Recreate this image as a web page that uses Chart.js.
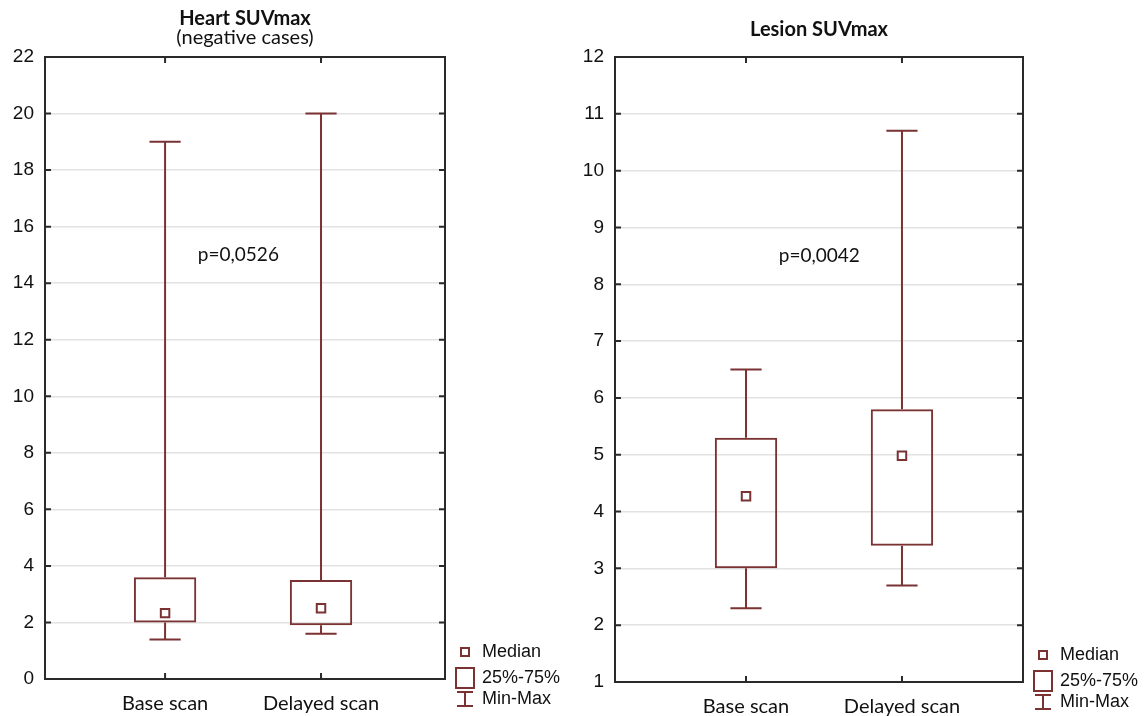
<!DOCTYPE html>
<html>
<head>
<meta charset="utf-8">
<script src="https://cdn.jsdelivr.net/npm/chart.js@4.4.1/dist/chart.umd.min.js"></script>
<style>
  html, body { margin: 0; padding: 0; background: #fff; }
  #wrap { position: relative; width: 1148px; height: 716px; }
  .panel { position: absolute; top: 0; height: 716px; }
  #left { left: 0; width: 560px; }
  #right { left: 560px; width: 588px; }
</style>
</head>
<body>
<div id="wrap">
  <div class="panel" id="left"><canvas id="heartChart"></canvas></div>
  <div class="panel" id="right"><canvas id="lesionChart"></canvas></div>
</div>
<script>
const categories = ["Base scan", "Delayed scan"];

// Heart SUVmax (negative cases)
const heartMin = [1.4, 1.6];
const heartQ1 = [2.0, 1.9];
const heartMedian = [2.33, 2.5];
const heartQ3 = [3.6, 3.5];
const heartMax = [19, 20];
const heartTicks = [0, 2, 4, 6, 8, 10, 12, 14, 16, 18, 20, 22];

// Lesion SUVmax
const lesionMin = [2.3, 2.7];
const lesionQ1 = [3.0, 3.4];
const lesionMedian = [4.27, 4.98];
const lesionQ3 = [5.3, 5.8];
const lesionMax = [6.5, 10.7];
const lesionTicks = [1, 2, 3, 4, 5, 6, 7, 8, 9, 10, 11, 12];

const BOX_COLOR = "#7a3232";
const FRAME_COLOR = "#2a2a2a";
const TEXT_COLOR = "#111";

function makeBoxChart(canvasId, cfg) {
  // whiskers: min -> q1 and q3 -> max, with caps
  const whiskers = {
    id: "whiskers",
    afterDatasetsDraw(chart) {
      const { ctx, scales: { x, y } } = chart;
      ctx.save();
      ctx.strokeStyle = BOX_COLOR;
      ctx.lineWidth = 2;
      cfg.min.forEach((lo, i) => {
        const cx = x.getPixelForValue(i);
        const half = x.getPixelForValue(i + 0.1) - cx;
        const yMin = y.getPixelForValue(lo);
        const yMax = y.getPixelForValue(cfg.max[i]);
        ctx.beginPath();
        ctx.moveTo(cx, yMin);
        ctx.lineTo(cx, y.getPixelForValue(cfg.q1[i]));
        ctx.moveTo(cx, y.getPixelForValue(cfg.q3[i]));
        ctx.lineTo(cx, yMax);
        ctx.moveTo(cx - half, yMin);
        ctx.lineTo(cx + half, yMin);
        ctx.moveTo(cx - half, yMax);
        ctx.lineTo(cx + half, yMax);
        ctx.stroke();
      });
      ctx.restore();
    }
  };

  // frame, inner ticks, titles, p value and the legend
  const decor = {
    id: "decor",
    afterDraw(chart) {
      const { ctx, chartArea: a, scales: { x, y } } = chart;
      ctx.save();
      ctx.strokeStyle = FRAME_COLOR;
      ctx.lineWidth = 2;
      ctx.strokeRect(a.left, a.top, a.right - a.left, a.bottom - a.top);

      ctx.beginPath();
      y.ticks.forEach(t => {
        const py = y.getPixelForValue(t.value);
        ctx.moveTo(a.left, py); ctx.lineTo(a.left + 6, py);
        ctx.moveTo(a.right - 6, py); ctx.lineTo(a.right, py);
      });
      x.ticks.forEach(t => {
        const px = x.getPixelForValue(t.value);
        ctx.moveTo(px, a.top); ctx.lineTo(px, a.top + 6);
        ctx.moveTo(px, a.bottom - 6); ctx.lineTo(px, a.bottom);
      });
      ctx.stroke();

      ctx.fillStyle = TEXT_COLOR;
      ctx.textAlign = "center";
      ctx.textBaseline = "middle";
      const midX = (a.left + a.right) / 2;
      ctx.font = "bold 20px Lato";
      ctx.fillText(cfg.title, midX, cfg.titleY);
      if (cfg.subtitle) {
        ctx.font = "20px Lato";
        ctx.fillText(cfg.subtitle, midX, cfg.titleY + 19);
      }

      ctx.font = "19px Lato";
      ctx.fillText(cfg.pText, x.getPixelForValue(cfg.pPos[0]), y.getPixelForValue(cfg.pPos[1]));

      // legend
      const lx = a.right + 20;
      const r1 = a.bottom - 27, r2 = a.bottom - 1, r3 = a.bottom + 20;
      ctx.strokeStyle = BOX_COLOR;
      ctx.lineWidth = 2;
      ctx.strokeRect(lx - 4, r1 - 4, 8, 8);
      ctx.strokeRect(lx - 9, r2 - 10, 18, 20);
      ctx.beginPath();
      ctx.moveTo(lx - 8, r3 - 7); ctx.lineTo(lx + 8, r3 - 7);
      ctx.moveTo(lx, r3 - 7); ctx.lineTo(lx, r3 + 7);
      ctx.moveTo(lx - 8, r3 + 7); ctx.lineTo(lx + 8, r3 + 7);
      ctx.stroke();
      ctx.font = "18px 'Liberation Sans'";
      ctx.textAlign = "left";
      ctx.fillText("Median", lx + 17, r1);
      ctx.fillText("25%-75%", lx + 17, r2);
      ctx.fillText("Min-Max", lx + 17, r3);
      ctx.restore();
    }
  };

  return new Chart(document.getElementById(canvasId), {
    type: "bar",
    data: {
      datasets: [
        {
          label: "25%-75%",
          data: cfg.q1.map((v, i) => ({ x: i, y: [v, cfg.q3[i]] })),
          backgroundColor: "rgba(255,255,255,0)",
          borderColor: BOX_COLOR,
          borderWidth: 2,
          borderSkipped: false,
          barPercentage: 0.4,
          categoryPercentage: 1
        },
        {
          type: "scatter",
          label: "Median",
          data: cfg.median.map((v, i) => ({ x: i, y: v })),
          pointStyle: "rect",
          pointRadius: 6,
          pointBorderWidth: 2,
          pointBackgroundColor: "#fff",
          pointBorderColor: BOX_COLOR
        }
      ]
    },
    options: {
      responsive: true,
      maintainAspectRatio: false,
      animation: false,
      events: [],
      layout: { padding: cfg.padding },
      plugins: { legend: { display: false }, tooltip: { enabled: false }, title: { display: false } },
      scales: {
        x: {
          type: "linear",
          offset: false,
          min: cfg.xRange[0],
          max: cfg.xRange[1],
          afterBuildTicks: s => { s.ticks = categories.map((c, i) => ({ value: i })); },
          afterFit: s => { s.height = cfg.xHeight; },
          grid: { display: false, drawTicks: false },
          border: { display: false },
          ticks: {
            callback: v => categories[v],
            font: { family: "Lato", size: 20 },
            color: TEXT_COLOR,
            padding: 13,
            maxRotation: 0
          }
        },
        y: {
          min: cfg.ticks[0],
          max: cfg.ticks[cfg.ticks.length - 1],
          afterBuildTicks: s => { s.ticks = cfg.ticks.map(v => ({ value: v })); },
          afterFit: s => { s.width = cfg.yWidth; },
          grid: { color: "#e2e2e2", lineWidth: 1.5, drawTicks: false },
          border: { display: false },
          ticks: {
            font: { family: "'Liberation Sans'", size: 19 },
            color: TEXT_COLOR,
            padding: 11
          }
        }
      }
    },
    plugins: [whiskers, decor]
  });
}

makeBoxChart("heartChart", {
  min: heartMin, q1: heartQ1, median: heartMedian, q3: heartQ3, max: heartMax,
  ticks: heartTicks,
  title: "Heart SUVmax", subtitle: "(negative cases)", titleY: 19,
  pText: "p=0,0526", pPos: [0.47, 15.0],
  xRange: [-0.77, 1.795],
  padding: { top: 57, right: 115, bottom: 0, left: 0 },
  yWidth: 45, xHeight: 37
});

makeBoxChart("lesionChart", {
  min: lesionMin, q1: lesionQ1, median: lesionMedian, q3: lesionQ3, max: lesionMax,
  ticks: lesionTicks,
  title: "Lesion SUVmax", subtitle: null, titleY: 30,
  pText: "p=0,0042", pPos: [0.47, 8.5],
  xRange: [-0.84, 1.776],
  padding: { top: 57, right: 125, bottom: 0, left: 0 },
  yWidth: 55, xHeight: 34
});
</script>
</body>
</html>
